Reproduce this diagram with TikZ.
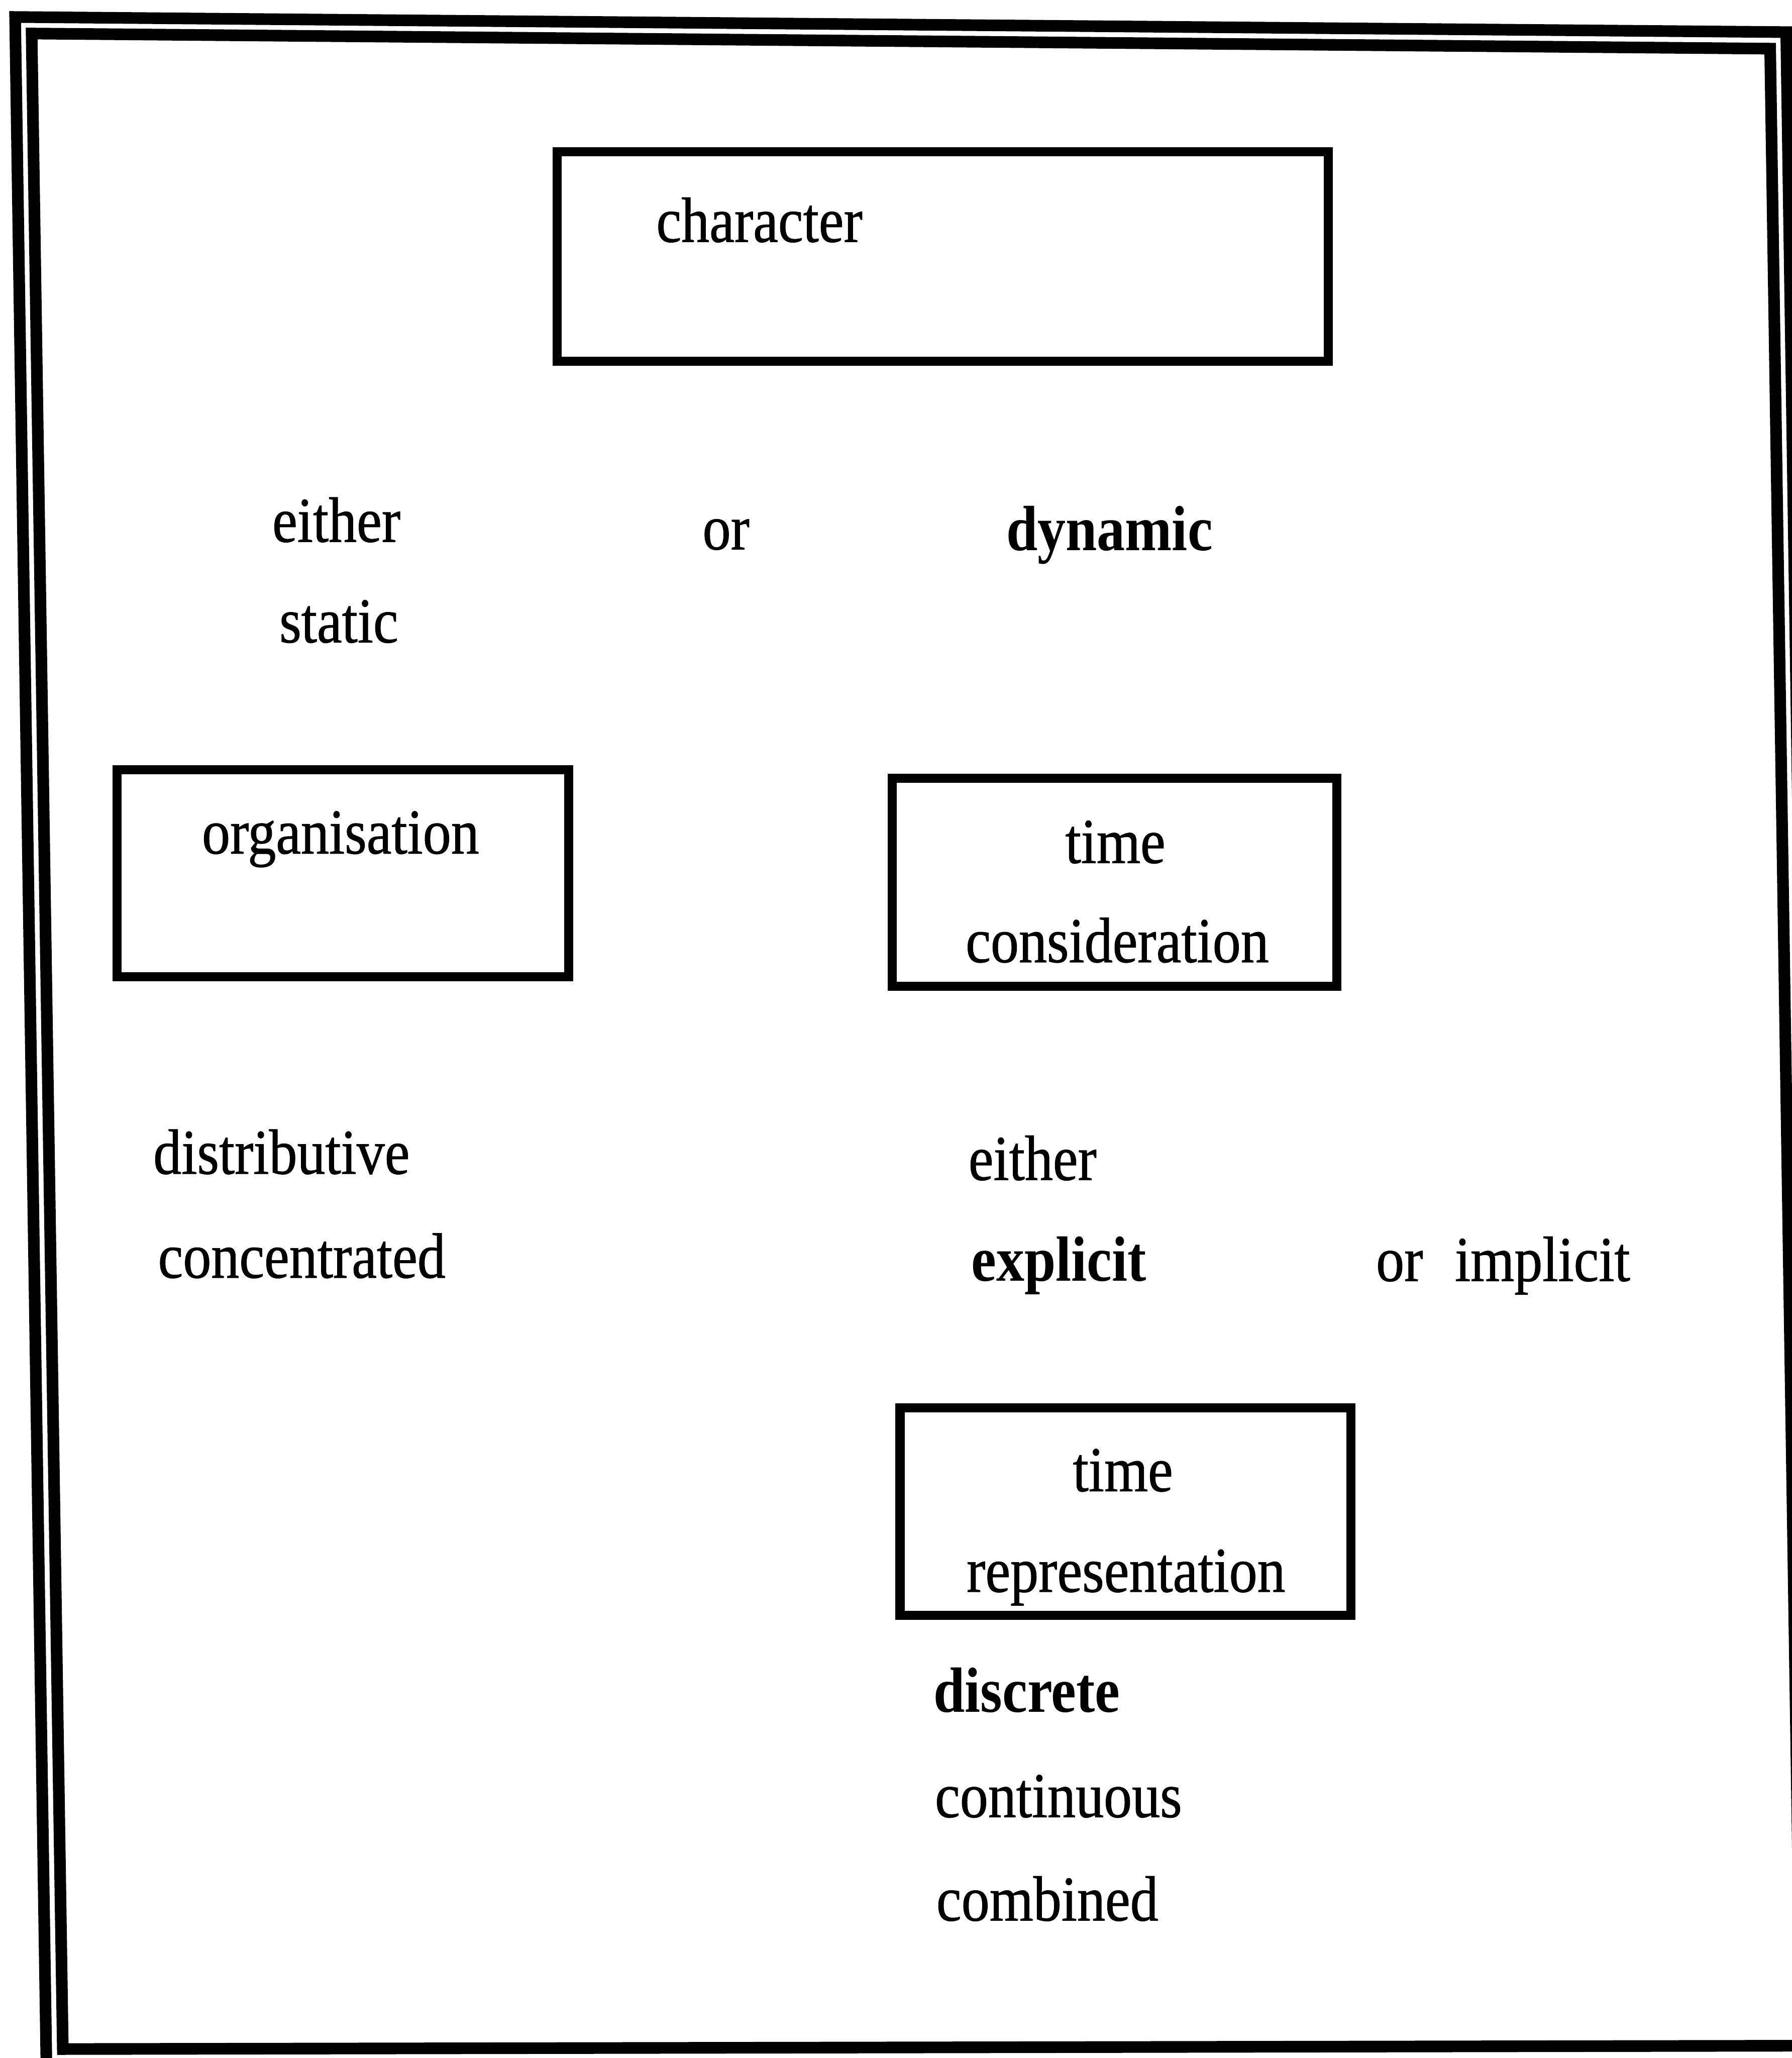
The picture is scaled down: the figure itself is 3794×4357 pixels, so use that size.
\documentclass[tikz,border=0pt]{standalone}
\usepackage{fontspec}
\setmainfont{Liberation Serif}[FakeStretch=0.88, UprightFeatures={FakeBold=0.8}]
\usepackage{tikz}

\begin{document}
\begin{tikzpicture}[x=0.01cm, y=-0.01cm,
    box/.style={draw, line width=5.5pt, inner sep=0pt},
    lbl/.style={inner sep=0pt, anchor=base west, font=\fontsize{38.5}{46}\selectfont}]
    \useasboundingbox (0,0) rectangle (3794,4357);
    \clip (0,0) rectangle (3794,4357);
    % double frame
    \draw[line width=7pt] (32,36) -- (3782,68) -- (3848,4420) -- (99,4420) -- cycle;
    \draw[line width=7pt] (67,71) -- (3748,103) -- (3813,4331) -- (133,4338) -- cycle;

    \node[box, minimum width=16.32cm, minimum height=4.43cm] (ch) at (1996,543) {};
    \node[lbl] (chT) at (1389,512) {character};

    \node[lbl] (either1) at (576,1147) {either};
    \node[lbl] (orTop) at (1487,1163) {or};
    \node[lbl] (dyn) at (2130,1165) {\bfseries dynamic};
    \node[lbl] (stat) at (591,1360) {static};

    \node[box, minimum width=9.56cm, minimum height=4.38cm] (org) at (726,1849) {};
    \node[lbl] (orgT) at (427,1807) {organisation};

    \node[box, minimum width=9.41cm, minimum height=4.40cm] (tcons) at (2360,1868) {};
    \node[lbl] (tconsA) at (2255,1827) {time};
    \node[lbl] (tconsB) at (2044,2037) {consideration};

    \node[lbl] (distr) at (324,2485) {distributive};
    \node[lbl] (conc) at (334,2705) {concentrated};
    \node[lbl] (either2) at (2050,2498) {either};
    \node[lbl] (expl) at (2056,2712) {\bfseries explicit};
    \node[lbl] (impl) at (2913,2712) {or\hspace{.5em}implicit};

    \node[box, minimum width=9.54cm, minimum height=4.39cm] (trep) at (2383,3200) {};
    \node[lbl] (trepA) at (2271,3157) {time};
    \node[lbl] (trepB) at (2046,3370) {representation};

    \node[lbl] (disc) at (1976,3625) {\bfseries discrete};
    \node[lbl] (cont) at (1979,3847) {continuous};
    \node[lbl] (comb) at (1982,4066) {combined};
\end{tikzpicture}
\end{document}
